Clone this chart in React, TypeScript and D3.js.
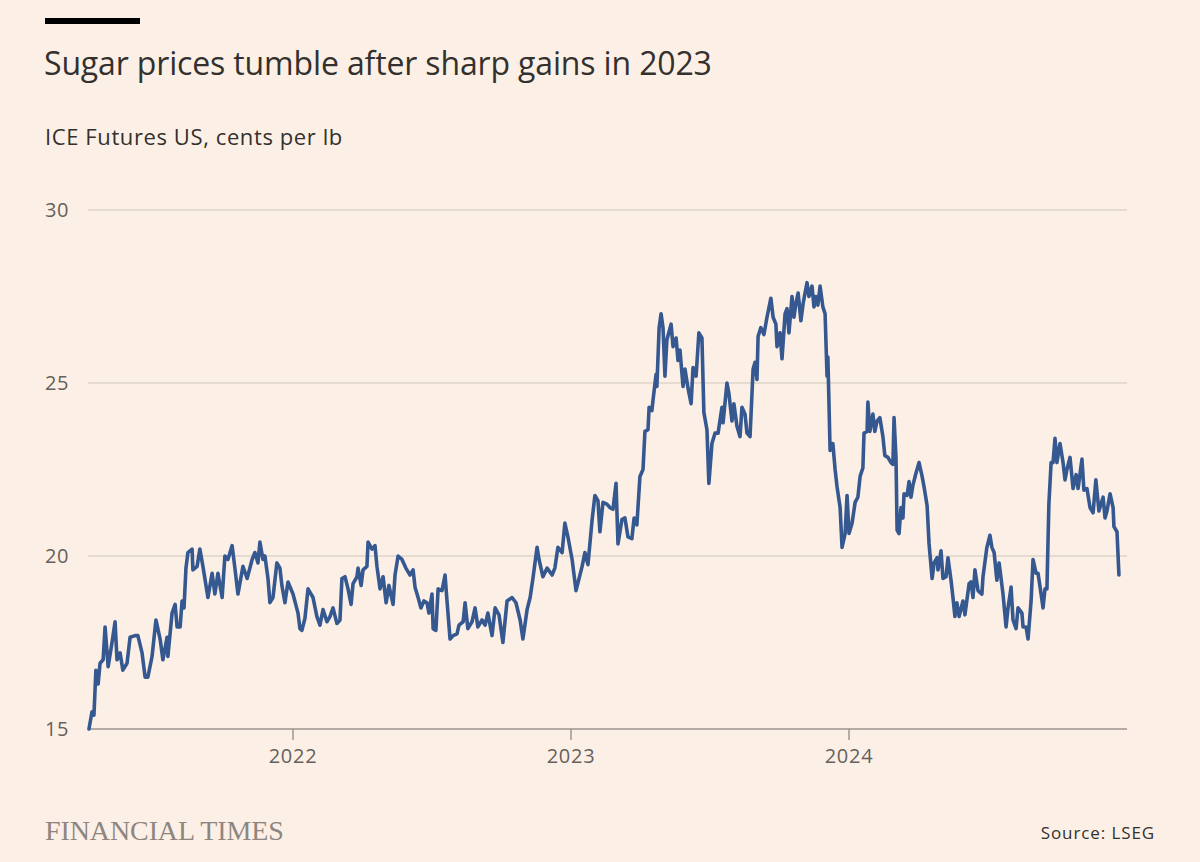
import React from "react";
import * as d3 from "d3";

// Decimal-year dates and prices (cents per lb)
const dates: number[] = [
  2021.266, 2021.277, 2021.284, 2021.291, 2021.299, 2021.306, 2021.317, 2021.324, 2021.335, 2021.349,
  2021.360, 2021.367, 2021.378, 2021.388, 2021.403, 2021.414, 2021.432, 2021.442, 2021.457, 2021.468,
  2021.478, 2021.493, 2021.507, 2021.522, 2021.532, 2021.547, 2021.550, 2021.565, 2021.576, 2021.583,
  2021.594, 2021.601, 2021.608, 2021.615, 2021.622, 2021.637, 2021.640, 2021.655, 2021.665, 2021.676,
  2021.694, 2021.709, 2021.719, 2021.730, 2021.745, 2021.755, 2021.766, 2021.781, 2021.791, 2021.802,
  2021.820, 2021.835, 2021.853, 2021.863, 2021.874, 2021.881, 2021.892, 2021.899, 2021.910, 2021.917,
  2021.928, 2021.942, 2021.953, 2021.960, 2021.971, 2021.982, 2022.000, 2022.018, 2022.025, 2022.032,
  2022.043, 2022.054, 2022.072, 2022.086, 2022.097, 2022.108, 2022.122, 2022.133, 2022.144, 2022.158,
  2022.169, 2022.176, 2022.187, 2022.198, 2022.209, 2022.216, 2022.230, 2022.234, 2022.245, 2022.252,
  2022.266, 2022.270, 2022.284, 2022.295, 2022.302, 2022.313, 2022.324, 2022.335, 2022.345, 2022.360,
  2022.367, 2022.378, 2022.392, 2022.406, 2022.421, 2022.432, 2022.439, 2022.450, 2022.460, 2022.471,
  2022.482, 2022.489, 2022.500, 2022.504, 2022.514, 2022.522, 2022.536, 2022.547, 2022.554, 2022.565,
  2022.576, 2022.590, 2022.597, 2022.612, 2022.619, 2022.629, 2022.644, 2022.655, 2022.665, 2022.680,
  2022.691, 2022.701, 2022.716, 2022.727, 2022.741, 2022.755, 2022.770, 2022.788, 2022.802, 2022.817,
  2022.827, 2022.842, 2022.853, 2022.863, 2022.878, 2022.885, 2022.899, 2022.914, 2022.932, 2022.942,
  2022.953, 2022.968, 2022.978, 2022.989, 2023.004, 2023.018, 2023.040, 2023.050, 2023.061, 2023.076,
  2023.086, 2023.097, 2023.104, 2023.115, 2023.129, 2023.140, 2023.151, 2023.162, 2023.169, 2023.183,
  2023.194, 2023.205, 2023.219, 2023.227, 2023.237, 2023.248, 2023.259, 2023.266, 2023.277, 2023.281,
  2023.291, 2023.295, 2023.306, 2023.309, 2023.317, 2023.324, 2023.331, 2023.338, 2023.345, 2023.360,
  2023.367, 2023.378, 2023.385, 2023.392, 2023.403, 2023.410, 2023.421, 2023.432, 2023.439, 2023.450,
  2023.460, 2023.471, 2023.478, 2023.489, 2023.496, 2023.507, 2023.518, 2023.529, 2023.543, 2023.547,
  2023.561, 2023.568, 2023.579, 2023.586, 2023.597, 2023.608, 2023.615, 2023.626, 2023.633, 2023.644,
  2023.655, 2023.662, 2023.669, 2023.673, 2023.683, 2023.694, 2023.705, 2023.719, 2023.727, 2023.737,
  2023.741, 2023.752, 2023.759, 2023.770, 2023.777, 2023.784, 2023.795, 2023.802, 2023.809, 2023.817,
  2023.827, 2023.835, 2023.849, 2023.856, 2023.867, 2023.874, 2023.881, 2023.888, 2023.896, 2023.906,
  2023.914, 2023.921, 2023.924, 2023.932, 2023.942, 2023.950, 2023.957, 2023.968, 2023.975, 2023.986,
  2023.993, 2024.000, 2024.011, 2024.022, 2024.032, 2024.040, 2024.050, 2024.054, 2024.065, 2024.068,
  2024.075, 2024.086, 2024.093, 2024.101, 2024.111, 2024.122, 2024.129, 2024.140, 2024.151, 2024.158,
  2024.162, 2024.169, 2024.173, 2024.180, 2024.187, 2024.194, 2024.198, 2024.209, 2024.216, 2024.223,
  2024.230, 2024.241, 2024.252, 2024.263, 2024.270, 2024.281, 2024.288, 2024.299, 2024.306, 2024.317,
  2024.320, 2024.331, 2024.338, 2024.349, 2024.356, 2024.367, 2024.374, 2024.381, 2024.388, 2024.396,
  2024.410, 2024.417, 2024.432, 2024.439, 2024.446, 2024.453, 2024.464, 2024.478, 2024.482, 2024.496,
  2024.507, 2024.514, 2024.522, 2024.532, 2024.540, 2024.554, 2024.565, 2024.572, 2024.583, 2024.590,
  2024.601, 2024.608, 2024.622, 2024.626, 2024.637, 2024.644, 2024.655, 2024.662, 2024.673, 2024.680,
  2024.691, 2024.698, 2024.705, 2024.712, 2024.719, 2024.727, 2024.734, 2024.741, 2024.748, 2024.759,
  2024.770, 2024.777, 2024.784, 2024.795, 2024.806, 2024.817, 2024.824, 2024.838, 2024.845, 2024.856,
  2024.867, 2024.878, 2024.888, 2024.899, 2024.914, 2024.921, 2024.928, 2024.939, 2024.950, 2024.953,
  2024.964, 2024.971,
];

const prices: number[] = [
  15.0, 15.5, 15.4, 16.7, 16.3, 16.9, 17.0, 17.95, 16.8, 17.5,
  18.1, 17.0, 17.2, 16.7, 16.9, 17.65, 17.7, 17.7, 17.2, 16.5,
  16.5, 17.1, 18.15, 17.6, 17.0, 17.65, 17.1, 18.35, 18.6, 17.95,
  17.95, 18.7, 18.5, 19.65, 20.1, 20.2, 19.6, 19.7, 20.2, 19.7,
  18.8, 19.5, 18.9, 19.5, 18.8, 20.0, 19.9, 20.3, 19.65, 18.9,
  19.7, 19.35, 19.9, 20.1, 19.8, 20.4, 19.9, 20.0, 19.35, 18.65,
  18.8, 19.8, 19.65, 19.15, 18.65, 19.25, 18.9, 18.35, 17.9, 17.85,
  18.2, 19.05, 18.8, 18.25, 18.0, 18.45, 18.1, 18.25, 18.5, 18.05,
  18.15, 19.35, 19.4, 19.05, 18.6, 19.2, 19.4, 19.65, 19.15, 19.6,
  19.7, 20.4, 20.2, 20.3, 19.7, 19.05, 19.4, 18.65, 19.15, 18.6,
  19.45, 20.0, 19.9, 19.65, 19.45, 19.6, 19.1, 18.8, 18.5, 18.7,
  18.65, 18.35, 18.9, 17.9, 17.85, 19.05, 19.0, 19.45, 18.7, 17.6,
  17.7, 17.75, 18.0, 18.1, 18.65, 17.9, 18.1, 18.5, 17.95, 18.15,
  18.0, 18.35, 17.7, 18.5, 18.3, 17.5, 18.7, 18.8, 18.65, 18.15,
  17.6, 18.45, 18.8, 19.35, 20.25, 19.9, 19.4, 19.65, 19.45, 19.65,
  20.25, 20.1, 20.95, 20.55, 19.9, 19.0, 19.7, 20.1, 19.75, 21.05,
  21.75, 21.6, 20.7, 21.55, 21.5, 21.4, 21.35, 22.1, 20.35, 21.05,
  21.1, 20.55, 20.5, 21.1, 20.9, 22.3, 22.5, 23.6, 23.65, 24.3,
  24.2, 24.5, 25.25, 24.9, 26.6, 27.0, 26.6, 25.2, 26.25, 26.7,
  26.05, 26.3, 25.65, 25.95, 24.9, 25.4, 24.85, 24.4, 25.45, 25.2,
  26.45, 26.3, 24.15, 23.65, 22.1, 23.25, 23.55, 23.55, 24.3, 23.85,
  25.0, 24.7, 23.9, 24.4, 23.75, 23.45, 24.3, 24.1, 23.55, 23.45,
  25.4, 25.6, 25.1, 26.35, 26.6, 26.4, 26.9, 27.45, 26.9, 26.7,
  26.05, 26.45, 25.7, 27.0, 27.15, 26.45, 27.5, 26.9, 27.3, 27.6,
  26.8, 27.3, 27.9, 27.5, 27.8, 27.2, 27.5, 27.25, 27.8, 27.2,
  27.0, 25.2, 25.75, 23.05, 23.25, 22.5, 22.0, 21.4, 20.25, 20.65,
  21.75, 20.65, 20.95, 21.55, 21.7, 22.3, 22.55, 23.55, 23.6, 24.45,
  23.6, 24.1, 23.6, 23.9, 24.0, 23.45, 22.9, 22.85, 22.7, 22.65,
  24.0, 22.85, 20.75, 20.65, 21.4, 21.1, 21.8, 21.75, 22.15, 21.7,
  22.05, 22.4, 22.7, 22.3, 22.0, 21.45, 20.35, 19.35, 19.8, 19.95,
  19.6, 20.15, 19.35, 19.4, 19.95, 19.3, 18.8, 18.25, 18.65, 18.25,
  18.7, 18.3, 19.2, 19.25, 18.8, 19.6, 19.0, 18.9, 19.4, 20.25,
  20.6, 20.25, 20.1, 19.3, 19.8, 18.9, 17.95, 18.5, 19.1, 18.15,
  17.9, 18.5, 18.35, 17.95, 17.95, 17.6, 18.7, 19.9, 19.5, 19.5,
  18.9, 18.5, 19.05, 19.05, 21.5, 22.7, 22.7, 23.4, 22.7, 23.25,
  22.7, 22.2, 22.5, 22.85, 21.95, 22.35, 21.95, 22.8, 21.9, 21.95,
  21.4, 21.25, 22.2, 21.3, 21.7, 21.1, 21.3, 21.8, 21.4, 20.85,
  20.7, 19.45,
];

const yTicks: number[] = [15, 20, 25, 30];
const xTicks: number[] = [2022, 2023, 2024];
const xTickLabels: string[] = ["2022", "2023", "2024"];

const title = "Sugar prices tumble after sharp gains in 2023";
const subtitle = "ICE Futures US, cents per lb";
const source = "Source: LSEG";
const brand = "FINANCIAL TIMES";

const W = 1200;
const H = 862;
const M = { left: 88, right: 1127, top: 210, bottom: 729 };
const BG = "#fcf0e6";
const FONT = "'Open Sans', Lato, sans-serif";

export default function App() {
  const x = d3.scaleLinear().domain([2021.2626, 2025.0]).range([M.left, M.right]);
  const y = d3.scaleLinear().domain([15, 30]).range([M.bottom, M.top]);
  const data = dates.map((d, i) => ({ t: d, v: prices[i] }));
  const line = d3
    .line<{ t: number; v: number }>()
    .x((d) => x(d.t))
    .y((d) => y(d.v))
    .curve(d3.curveLinear);

  return (
    <svg
      width={W}
      height={H}
      viewBox={`0 0 ${W} ${H}`}
      style={{ position: "absolute", left: 0, top: 0, display: "block" }}
    >
      <rect x={0} y={0} width={W} height={H} fill={BG} />
      <rect x={45} y={18} width={95} height={6} fill="#000000" />
      <text x={44} y={74.5} fontFamily={FONT} fontSize={32} fill="#33302e" letterSpacing={-0.15}>
        {title}
      </text>
      <text x={45} y={145} fontFamily={FONT} fontSize={22} fill="#33302e" letterSpacing={0.6}>
        {subtitle}
      </text>

      {yTicks.map((t) => (
        <g key={t}>
          <line
            x1={M.left}
            x2={M.right}
            y1={y(t)}
            y2={y(t)}
            stroke={t === 15 ? "#9e958e" : "#cfc5bc"}
            strokeWidth={t === 15 ? 1.5 : 1.2}
          />
          <text
            x={45}
            y={y(t)}
            dy="0.36em"
            fontFamily={FONT}
            fontSize={20}
            fill="#66605c"
            letterSpacing={0.6}
          >
            {t}
          </text>
        </g>
      ))}

      {xTicks.map((t, i) => (
        <g key={t}>
          <line x1={x(t)} x2={x(t)} y1={M.bottom} y2={M.bottom + 11} stroke="#9e958e" strokeWidth={1.5} />
          <text
            x={x(t)}
            y={763}
            textAnchor="middle"
            fontFamily={FONT}
            fontSize={20}
            fill="#66605c"
            letterSpacing={0.7}
          >
            {xTickLabels[i]}
          </text>
        </g>
      ))}

      <path
        d={line(data) || ""}
        fill="none"
        stroke="#365891"
        strokeWidth={3.6}
        strokeLinejoin="round"
        strokeLinecap="round"
      />

      <text
        x={45}
        y={840}
        fontFamily="'Liberation Serif', 'DejaVu Serif', serif"
        fontSize={28}
        fill="#8e8580"
        letterSpacing={-0.1}
      >
        {brand}
      </text>
      <text
        x={1155}
        y={839}
        textAnchor="end"
        fontFamily={FONT}
        fontSize={17}
        fill="#33302e"
        letterSpacing={0.9}
      >
        {source}
      </text>
    </svg>
  );
}
